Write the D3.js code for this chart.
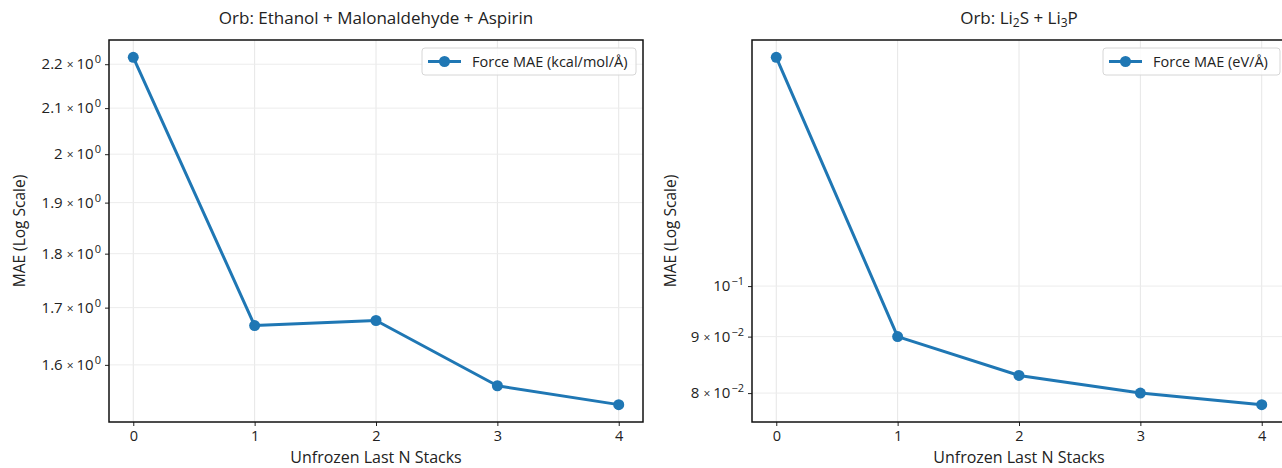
<!DOCTYPE html>
<html>
<head>
<meta charset="utf-8">
<script src="https://cdn.jsdelivr.net/npm/d3@7"></script>
<style>
  body { margin: 0; background: #fff; }
  svg text { font-family: "Open Sans", Roboto, sans-serif; fill: #222; }
</style>
</head>
<body>
<svg id="chart" width="1282" height="468"></svg>
<script>
// data
const stacks = [0, 1, 2, 3, 4];
const molMae = [2.216, 1.668, 1.677, 1.565, 1.534];
const liMae = [0.1611, 0.0900, 0.0830, 0.0800, 0.0781];

const molTicks = [1.6, 1.7, 1.8, 1.9, 2.0, 2.1, 2.2];
const molTickLabels = [["1.6", 0], ["1.7", 0], ["1.8", 0], ["1.9", 0], ["2", 0], ["2.1", 0], ["2.2", 0]];
const liTicks = [0.08, 0.09, 0.1];
const liTickLabels = [["8", -2], ["9", -2], [null, -1]];

const color = "#1f77b4";
const svg = d3.select("#chart");

function drawPanel(opt) {
    const { left, right, top, bottom } = opt;
    const g = svg.append("g");

    const x = d3.scaleLinear().domain([-0.2, 4.2]).range([left, right]);

    // log scale with 5% margins in log space like matplotlib
    const lmin = Math.log(d3.min(opt.values)), lmax = Math.log(d3.max(opt.values));
    const pad = (lmax - lmin) * 0.05;
    const y = d3.scaleLog().domain([Math.exp(lmin - pad), Math.exp(lmax + pad)]).range([bottom, top]);

    // grid
    g.append("g").selectAll("line").data(stacks).join("line")
        .attr("x1", d => x(d)).attr("x2", d => x(d))
        .attr("y1", top).attr("y2", bottom)
        .attr("stroke", "#e6e6e6").attr("stroke-width", 1);
    g.append("g").selectAll("line").data(opt.ticks).join("line")
        .attr("x1", left).attr("x2", right)
        .attr("y1", d => y(d)).attr("y2", d => y(d))
        .attr("stroke", "#ececec").attr("stroke-width", 1);

    // axes
    const xAxis = d3.axisBottom(x).tickValues(stacks).tickFormat(d3.format("d")).tickSize(4).tickPadding(5);
    const xg = g.append("g").attr("transform", `translate(0,${bottom})`).call(xAxis);
    xg.select(".domain").remove();
    xg.selectAll("line").attr("stroke", "#222");
    xg.selectAll("text").attr("font-size", 14.5).style("font-family", "'Open Sans', sans-serif").attr("fill", "#222");

    const yAxis = d3.axisLeft(y).tickValues(opt.ticks).tickFormat("").tickSize(4);
    const yg = g.append("g").attr("transform", `translate(${left},0)`).call(yAxis);
    yg.select(".domain").remove();
    yg.selectAll("line").attr("stroke", "#222");

    opt.ticks.forEach((t, i) => {
        const [mant, exp] = opt.labels[i];
        const txt = g.append("text")
            .attr("x", left - 8).attr("y", y(t) + 5)
            .attr("text-anchor", "end").attr("font-size", 15);
        if (mant !== null) {
            txt.append("tspan").text(mant);
            txt.append("tspan").text("\u00d7").attr("font-size", 12).attr("dx", 4);
            txt.append("tspan").text("10").attr("dx", 3);
        } else {
            txt.append("tspan").text("10");
        }
        txt.append("tspan").text(exp === 0 ? "0" : "\u2212" + Math.abs(exp))
            .attr("font-size", 11).attr("dy", -6).attr("dx", 1);
    });

    // frame
    g.append("rect")
        .attr("x", left).attr("y", top)
        .attr("width", right - left).attr("height", bottom - top)
        .attr("fill", "none").attr("stroke", "#111").attr("stroke-width", 1.5);

    // series
    const line = d3.line().x((d, i) => x(stacks[i])).y(d => y(d));
    g.append("path").datum(opt.values)
        .attr("d", line)
        .attr("fill", "none").attr("stroke", color)
        .attr("stroke-width", 3).attr("stroke-linejoin", "round");
    g.append("g").selectAll("circle").data(opt.values).join("circle")
        .attr("cx", (d, i) => x(stacks[i])).attr("cy", d => y(d))
        .attr("r", 5.5).attr("fill", color);

    // title
    const title = g.append("text")
        .attr("x", (left + right) / 2).attr("y", 24)
        .attr("text-anchor", "middle").attr("font-size", 17);
    opt.title(title);

    // axis labels
    g.append("text")
        .attr("x", (left + right) / 2).attr("y", 463)
        .attr("text-anchor", "middle").attr("font-size", 16)
        .text("Unfrozen Last N Stacks");
    g.append("text")
        .attr("transform", `translate(${opt.ylabelX},${(top + bottom) / 2}) rotate(-90)`)
        .attr("text-anchor", "middle").attr("font-size", 15.5)
        .text("MAE (Log Scale)");

    // legend
    const lg = g.append("g").attr("transform", `translate(${opt.legendX},48)`);
    lg.append("rect")
        .attr("width", opt.legendW).attr("height", 27).attr("rx", 3)
        .attr("fill", "#fff").attr("fill-opacity", 0.85)
        .attr("stroke", "#d6d6d6");
    lg.append("line").attr("x1", 6).attr("x2", 39).attr("y1", 13.5).attr("y2", 13.5)
        .attr("stroke", color).attr("stroke-width", 3);
    lg.append("circle").attr("cx", 22.5).attr("cy", 13.5).attr("r", 5.5).attr("fill", color);
    lg.append("text").attr("x", 50).attr("y", 18.5).attr("font-size", 14.5).text(opt.legend);
}

drawPanel({
    left: 109, right: 643, top: 40, bottom: 422,
    values: molMae, ticks: molTicks, labels: molTickLabels,
    ylabelX: 25, legendX: 422, legendW: 214,
    legend: "Force MAE (kcal/mol/\u00c5)",
    title: t => t.text("Orb: Ethanol + Malonaldehyde + Aspirin")
});

drawPanel({
    left: 752, right: 1286, top: 40, bottom: 422,
    values: liMae, ticks: liTicks, labels: liTickLabels,
    ylabelX: 676, legendX: 1103, legendW: 177,
    legend: "Force MAE (eV/\u00c5)",
    title: t => {
        t.append("tspan").text("Orb: Li");
        t.append("tspan").text("2").attr("font-size", 12).attr("dy", 3);
        t.append("tspan").text("S + Li").attr("dy", -3);
        t.append("tspan").text("3").attr("font-size", 12).attr("dy", 3);
        t.append("tspan").text("P").attr("dy", -3);
    }
});
</script>
</body>
</html>
